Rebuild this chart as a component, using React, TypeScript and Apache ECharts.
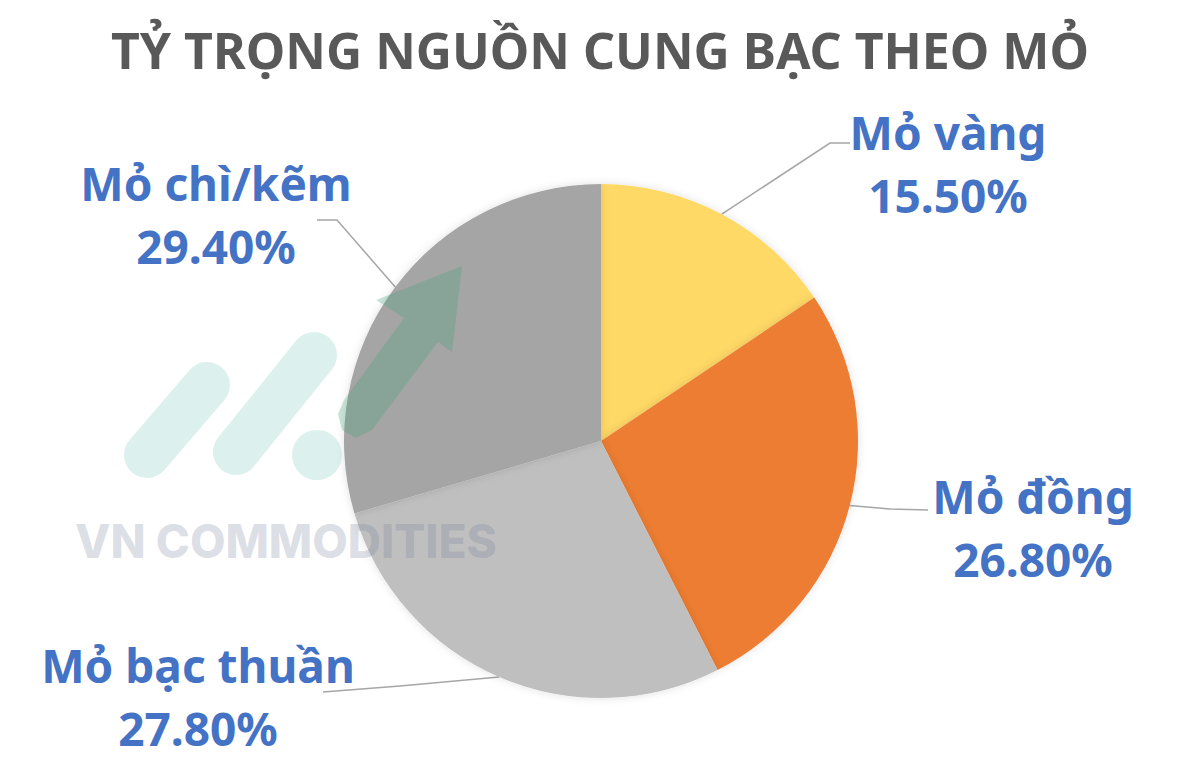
import React, { useEffect, useRef } from "react";
import * as echarts from "echarts";

const titleText = "TỶ TRỌNG NGUỒN CUNG BẠC THEO MỎ";
const categories = ["Mỏ vàng", "Mỏ đồng", "Mỏ bạc thuần", "Mỏ chì/kẽm"];
const values = [15.5, 26.8, 27.8, 29.4];
const colors = ["#FFD966", "#ED7D31", "#BFBFBF", "#A5A5A5"];

// label layout (positions only)
const labelPos = [
  { x: 948, y: 163, mid: [830, 143], end: [850, 143] },
  { x: 1033, y: 527, mid: [890, 509], end: [928, 510] },
  { x: 198, y: 696, mid: [400, 686], end: [323, 692] },
  { x: 216, y: 214, mid: [337, 220], end: [317, 220] },
];

export default function App() {
  const ref = useRef<HTMLDivElement>(null);
  useEffect(() => {
    if (!ref.current) return;
    const chart = echarts.init(ref.current, null, { renderer: "svg" });
    const pillColor = "rgba(120,200,190,0.26)";
    const arrowColor = "rgba(60,160,120,0.28)";
    const Z = 100;
    chart.setOption({
      animation: false,
      backgroundColor: "#ffffff",
      title: {
        text: titleText,
        left: "center",
        top: 20,
        textStyle: {
          fontFamily: "Noto Sans",
          fontWeight: "bold",
          fontSize: 50,
          color: "#595959",
        },
      },
      series: [
        {
          type: "pie",
          center: [601, 441],
          radius: 257,
          startAngle: 90,
          clockwise: true,
          itemStyle: {
            borderColor: "#ffffff",
            borderWidth: 0,
            shadowColor: "rgba(0,0,0,0.12)",
            shadowBlur: 8,
          },
          data: categories.map((c, i) => ({
            name: c,
            value: values[i],
            itemStyle: { color: colors[i] },
          })),
          label: {
            show: true,
            position: "outside",
            formatter: (p: any) => `${p.name}\n${p.value.toFixed(2)}%`,
            fontFamily: "Noto Sans",
            fontWeight: "bold",
            fontSize: 46,
            lineHeight: 63,
            color: "#4472C4",
            align: "center",
          },
          labelLine: {
            show: true,
            lineStyle: { color: "#A6A6A6", width: 1.5 },
          },
          labelLayout: (params: any) => {
            const lp = labelPos[params.dataIndex];
            const start = params.labelLinePoints
              ? params.labelLinePoints[0]
              : lp.mid;
            return {
              x: lp.x,
              y: lp.y,
              align: "center",
              verticalAlign: "middle",
              labelLinePoints: [start, lp.mid, lp.end],
            };
          },
        },
      ],
      graphic: [
        {
          type: "line",
          z: Z,
          silent: true,
          shape: { x1: 147, y1: 455, x2: 207, y2: 385 },
          style: { stroke: pillColor, lineWidth: 46, lineCap: "round" },
        },
        {
          type: "line",
          z: Z,
          silent: true,
          shape: { x1: 236, y1: 452, x2: 314, y2: 355 },
          style: { stroke: pillColor, lineWidth: 46, lineCap: "round" },
        },
        {
          type: "circle",
          z: Z,
          silent: true,
          shape: { cx: 317, cy: 455, r: 25 },
          style: { fill: pillColor },
        },
        {
          type: "polygon",
          z: Z,
          silent: true,
          shape: {
            points: [
              [462, 266],
              [452, 352],
              [438, 342],
              [372, 430],
              [356, 438],
              [342, 430],
              [338, 414],
              [344, 400],
              [404, 318],
              [376, 300],
            ],
          },
          style: { fill: arrowColor },
        },
        {
          type: "text",
          z: Z,
          silent: true,
          x: 75,
          y: 541,
          style: {
            text: "VN COMMODITIES",
            fontFamily: "Inter",
            fontWeight: 800,
            fontSize: 46,
            fill: "rgba(120,130,160,0.27)",
            verticalAlign: "middle",
          },
        },
      ],
    });
    return () => chart.dispose();
  }, []);
  return (
    <div
      ref={ref}
      style={{ position: "fixed", left: 0, top: 0, width: 1200, height: 779 }}
    />
  );
}
